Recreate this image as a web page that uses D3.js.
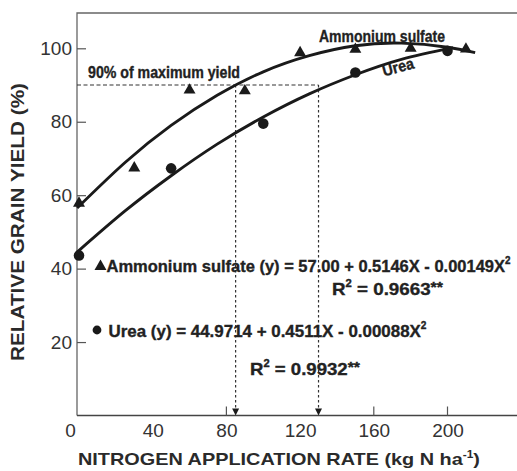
<!DOCTYPE html>
<html><head><meta charset="utf-8">
<script src="https://cdn.jsdelivr.net/npm/d3@7"></script>
<style>
html,body{margin:0;padding:0;background:#fff;}
svg{display:block;}
</style></head>
<body>
<svg id="c" width="517" height="471"></svg>
<script>
// ---- data ----
const xTickValues = [0, 40, 80, 120, 160, 200];
const xTickMarks = [80, 160, 200];
const yTickValues = [20, 40, 60, 80, 100];

const amsRate = [0, 30, 60, 90, 120, 150, 180, 210];
const amsYield = [57.8, 67.4, 88.6, 88.4, 98.8, 99.7, 100.0, 99.8];
const ureaRate = [0, 50, 100, 150, 200];
const ureaYield = [43.6, 67.3, 79.5, 93.4, 99.3];

// fitted curves, sampled along the drawn lines
const amsCurveRate = [-1, 25, 50, 75, 100, 125, 150, 175, 200, 215];
const amsCurveYield = [56.5, 68.9, 79.0, 87.2, 93.6, 98.0, 100.7, 101.4, 100.3, 98.8];
const ureaCurveRate = [-1, 25, 50, 75, 100, 125, 150, 175, 203];
const ureaCurveYield = [44.5, 55.7, 65.3, 73.9, 81.3, 87.6, 92.8, 97.0, 100.2];

const targetYield = 90;
const optimumRates = [85, 130];

// ---- layout ----
const svg = d3.select("#c");
const plotLeft = 77, plotTop = 13, plotRight = 517;
const x = d3.scaleLinear().domain([0, 200]).range([79, 447.5]);
const y = d3.scaleLinear().domain([0, 100]).range([415.5, 48.3]);
const plotBottom = y(0);
const ink = "#1a1a1a";
const cond = "'Liberation Sans', Arial, sans-serif";

// frame
svg.append("path").attr("d", `M${plotLeft},${plotBottom}V${plotTop}H${plotRight}`)
  .attr("fill", "none").attr("stroke", "#666").attr("stroke-width", 1.3);
svg.append("line").attr("x1", plotLeft).attr("x2", plotRight).attr("y1", plotBottom).attr("y2", plotBottom)
  .attr("stroke", "#444").attr("stroke-width", 1.4);

// y axis ticks (inward) + labels
const yAxis = d3.axisLeft(y).tickValues(yTickValues).tickSize(-9).tickPadding(14);
const gy = svg.append("g").attr("transform", `translate(${plotLeft},0)`).call(yAxis);
gy.select(".domain").remove();
gy.selectAll(".tick line").attr("stroke", "#555").attr("stroke-width", 1.2);
gy.selectAll(".tick text").attr("font-family", "'Liberation Sans', Arial, sans-serif")
  .attr("font-size", 19).attr("fill", "#333").attr("x", -5);

// x axis labels
const xAxis = d3.axisBottom(x).tickValues(xTickValues).tickSize(0).tickPadding(8);
const gx = svg.append("g").attr("transform", `translate(0,${plotBottom})`).call(xAxis);
gx.select(".domain").remove();
gx.selectAll(".tick line").remove();
gx.selectAll(".tick text").attr("font-family", "'Liberation Sans', Arial, sans-serif")
  .attr("font-size", 19).attr("fill", "#333")
  .attr("dx", d => d === 0 ? -9 : 0);
// x tick marks (inward)
svg.append("g").selectAll("line").data(xTickMarks).join("line")
  .attr("x1", d => x(d)).attr("x2", d => x(d))
  .attr("y1", plotBottom).attr("y2", plotBottom - 9)
  .attr("stroke", "#555").attr("stroke-width", 1.2);

// 90% reference lines
svg.append("line").attr("x1", plotLeft).attr("x2", x(optimumRates[1]))
  .attr("y1", y(targetYield)).attr("y2", y(targetYield))
  .attr("stroke", "#333").attr("stroke-width", 1.1).attr("stroke-dasharray", "4,2.5");
optimumRates.forEach(r => {
  svg.append("line").attr("x1", x(r)).attr("x2", x(r))
    .attr("y1", y(targetYield)).attr("y2", plotBottom - 6)
    .attr("stroke", "#333").attr("stroke-width", 1.2).attr("stroke-dasharray", "2.5,2.5");
  svg.append("path")
    .attr("d", `M${x(r) - 3.5},${plotBottom - 7}L${x(r) + 3.5},${plotBottom - 7}L${x(r)},${plotBottom}Z`)
    .attr("fill", ink);
});

// curves
const line = d3.line().x(d => x(d[0])).y(d => y(d[1])).curve(d3.curveNatural);
svg.append("path").datum(d3.zip(amsCurveRate, amsCurveYield)).attr("d", line)
  .attr("fill", "none").attr("stroke", ink).attr("stroke-width", 2.9);
svg.append("path").datum(d3.zip(ureaCurveRate, ureaCurveYield)).attr("d", line)
  .attr("fill", "none").attr("stroke", ink).attr("stroke-width", 2.9);

// markers
const tri = d3.symbol().type(d3.symbolTriangle).size(62);
svg.append("g").selectAll("path").data(d3.zip(amsRate, amsYield)).join("path")
  .attr("d", tri).attr("transform", d => `translate(${x(d[0])},${y(d[1])})`).attr("fill", ink);
svg.append("g").selectAll("circle").data(d3.zip(ureaRate, ureaYield)).join("circle")
  .attr("cx", d => x(d[0])).attr("cy", d => y(d[1])).attr("r", 5.3).attr("fill", ink);

// text helper: parts = [[string, raise(px), sizeFactor], ...]
function txt(parts, tx, ty, size, len, opts = {}) {
  const fill = opts.fill || "#222";
  const t = svg.append("text").attr("x", tx).attr("y", ty)
    .attr("font-family", cond).attr("font-weight", "bold").attr("font-size", size)
    .attr("fill", fill);
  if (typeof parts === "string") parts = [[parts, 0, 1]];
  let cur = 0;
  parts.forEach(([s, raise, sf]) => {
    const sp = t.append("tspan").text(s).attr("font-size", size * sf);
    if (raise !== cur) { sp.attr("dy", cur - raise); cur = raise; }
  });
  if (opts.heavy !== false) t.attr("stroke", fill).attr("stroke-width", 0.35);
  if (len) t.attr("textLength", len).attr("lengthAdjust", "spacingAndGlyphs");
  if (opts.rotate) t.attr("transform", `rotate(${opts.rotate},${tx},${ty})`);
  if (opts.anchor) t.attr("text-anchor", opts.anchor);
  return t;
}

txt("Ammonium sulfate", 319, 41.5, 17, 126);
txt("Urea", 384, 76.5, 16, 32, { rotate: -15 });
txt("90% of maximum yield", 88, 78, 16, 152);

// equations
svg.append("path").attr("d", d3.symbol().type(d3.symbolTriangle).size(62)())
  .attr("transform", "translate(100.5,266.5)").attr("fill", ink);
txt([["Ammonium sulfate (y) = 57.00 + 0.5146X - 0.00149X", 0, 1], ["2", 8, 0.6]], 106.5, 272, 17, 404);
txt([["R", 0, 1], ["2", 8, 0.6], [" = 0.9663", 0, 1], ["**", 3, 0.85]], 332, 295, 17, 111);

svg.append("circle").attr("cx", 97).attr("cy", 330).attr("r", 4.4).attr("fill", ink);
txt([["Urea (y) = 44.9714 + 0.4511X - 0.00088X", 0, 1], ["2", 8, 0.6]], 108.5, 337, 17, 318);
txt([["R", 0, 1], ["2", 8, 0.6], [" = 0.9932", 0, 1], ["**", 3, 0.85]], 250, 375, 17, 110);

// axis titles
txt([["NITROGEN APPLICATION RATE (kg N ha", 0, 1], ["-1", 7, 0.6], [")", 0, 1]], 78, 465, 17, 402,
  { fill: "#2a2a2a", heavy: false });
txt("RELATIVE GRAIN YIELD (%)", 23.5, 222, 18, 278, { rotate: -90, anchor: "middle", fill: "#2a2a2a", heavy: false });
</script>
</body></html>
